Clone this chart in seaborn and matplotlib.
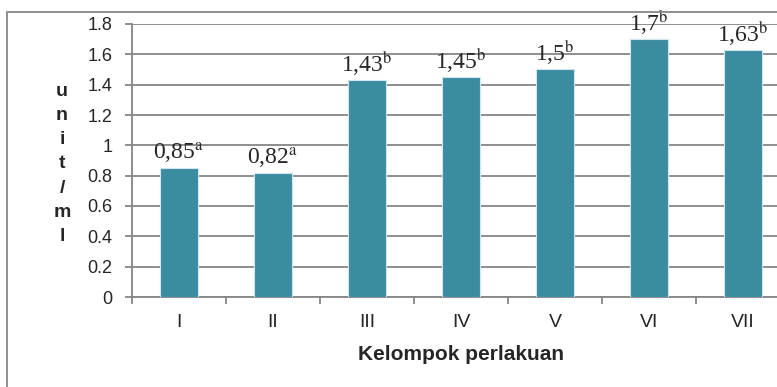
import matplotlib
matplotlib.use('Agg')
import matplotlib.pyplot as plt
import matplotlib.patches as patches
import seaborn as sns
import pandas as pd

groups = ['I', 'II', 'III', 'IV', 'V', 'VI', 'VII']
values = [0.85, 0.82, 1.43, 1.45, 1.5, 1.7, 1.63]
letters = ['a', 'a', 'b', 'b', 'b', 'b', 'b']
yticks = [0, 0.2, 0.4, 0.6, 0.8, 1, 1.2, 1.4, 1.6, 1.8]

df = pd.DataFrame({'kelompok': groups, 'nilai': values})

sns.set_style('white')
plt.rcParams['font.family'] = ['Liberation Sans', 'DejaVu Sans']
plt.rcParams['mathtext.fontset'] = 'stix'

grey = '#868686'
bar_color = '#3B8BA1'

fig = plt.figure(figsize=(7.77, 3.87), dpi=100)
ax = fig.add_axes([132 / 777, 90 / 387, 658 / 777, 273 / 387])

# outer chart border (cut off on right and bottom like the source)
fig.patches.append(patches.Rectangle((7 / 777, -0.1), 1.2, 1 - 12 / 387 + 0.1,
                                     transform=fig.transFigure, fill=False,
                                     edgecolor=grey, linewidth=1.3))

sns.barplot(data=df, x='kelompok', y='nilai', color=bar_color, width=0.4,
            edgecolor='#CFE6EC', linewidth=0.8, saturation=1, ax=ax, zorder=3)

ax.set_ylim(0, 1.8)
ax.set_xlim(-0.5, len(groups) - 0.5)
ax.set_yticks(yticks)
ax.set_yticklabels([f'{t:g}' for t in yticks])
ax.yaxis.grid(True, color=grey, linewidth=1.3, zorder=0)
ax.set_axisbelow(True)

for s in ['top', 'right']:
    ax.spines[s].set_visible(False)
for s in ['left', 'bottom']:
    ax.spines[s].set_color(grey)
    ax.spines[s].set_linewidth(1.3)

ax.tick_params(axis='y', direction='out', length=5, width=1.3, color=grey,
               pad=9, labelsize=13, left=True)
ax.tick_params(axis='x', which='major', length=0, pad=12, labelsize=14)
ax.set_xticks([i - 0.5 for i in range(len(groups) + 1)], minor=True)
ax.tick_params(axis='x', which='minor', direction='out', length=5, width=1.3,
               color=grey, bottom=True)

ax.set_ylabel('')
ax.set_xlabel('Kelompok perlakuan', fontsize=15, fontweight='bold', labelpad=10)

fig.text(62 / 777, 1 - 164 / 387, '\n'.join('unit/ml'), ha='center', va='center',
         fontsize=14, fontweight='bold', linespacing=1.55)

for i, (v, sup) in enumerate(zip(values, letters)):
    txt = str(v).replace('.', ',')
    ax.annotate(txt + r'$^{\mathrm{' + sup + '}}$', xy=(i, v), xytext=(0, 6),
                textcoords='offset points', ha='center', va='baseline',
                fontsize=17, family='Liberation Serif', zorder=5)

fig.savefig('out.png', dpi=100)
